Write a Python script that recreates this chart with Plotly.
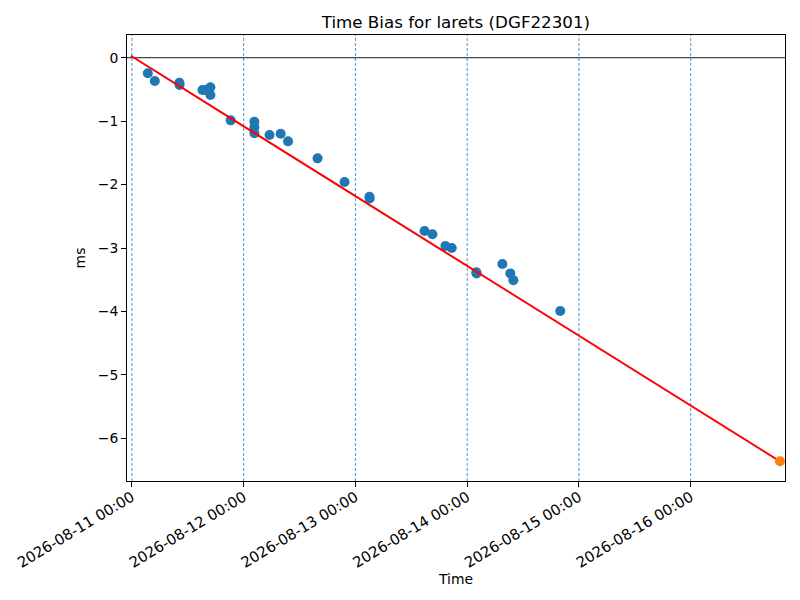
import plotly.graph_objects as go

# measured time bias samples
times = [
    "2026-08-11 03:25", "2026-08-11 04:55", "2026-08-11 10:12", "2026-08-11 10:14",
    "2026-08-11 15:09", "2026-08-11 15:47", "2026-08-11 16:51", "2026-08-11 16:52",
    "2026-08-11 21:13", "2026-08-12 02:18", "2026-08-12 02:18", "2026-08-12 02:19",
    "2026-08-12 05:34", "2026-08-12 07:57", "2026-08-12 09:32", "2026-08-12 15:52",
    "2026-08-12 21:40", "2026-08-13 03:01", "2026-08-13 03:04", "2026-08-13 14:50",
    "2026-08-13 16:32", "2026-08-13 19:19", "2026-08-13 20:41", "2026-08-14 01:58",
    "2026-08-14 02:01", "2026-08-14 07:34", "2026-08-14 09:16", "2026-08-14 09:55",
    "2026-08-14 19:59",
]
bias_ms = [
    -0.246, -0.367, -0.394, -0.430,
    -0.509, -0.509, -0.466, -0.588,
    -0.987, -1.009, -1.097, -1.191,
    -1.218, -1.198, -1.318, -1.586,
    -1.959, -2.19, -2.22, -2.731,
    -2.783, -2.968, -2.999, -3.38,
    -3.40, -3.252, -3.399, -3.508,
    -3.992,
]

# linear fit and prediction
fit_times = ["2026-08-10 23:46", "2026-08-16 19:10"]
fit_ms = [0.031, -6.361]
pred_time = ["2026-08-16 19:10"]
pred_ms = [-6.361]

# day boundaries marked with dashed lines
days = ["2026-08-11", "2026-08-12", "2026-08-13", "2026-08-14", "2026-08-15", "2026-08-16"]

x_range = ["2026-08-10 22:57", "2026-08-16 20:15"]
y_range = [-6.671, 0.358]

font = "DejaVu Sans, Liberation Sans, sans-serif"

fig = go.Figure()
for d in days:
    fig.add_vline(x=d, line=dict(color="#1f77b4", width=0.8, dash="3px,2px"), layer="below")
fig.add_hline(y=0, line=dict(color="black", width=0.9), layer="below")

fig.add_trace(go.Scatter(x=times, y=bias_ms, mode="markers",
                         marker=dict(color="#1f77b4", size=10)))
fig.add_trace(go.Scatter(x=fit_times, y=fit_ms, mode="lines",
                         line=dict(color="red", width=2)))
fig.add_trace(go.Scatter(x=pred_time, y=pred_ms, mode="markers",
                         marker=dict(color="#ff7f0e", size=10), cliponaxis=False))

fig.update_layout(
    width=800, height=600,
    autosize=False,
    margin=dict(l=126.5, r=14.7, t=35, b=119, autoexpand=False),
    plot_bgcolor="white",
    paper_bgcolor="white",
    showlegend=False,
    font=dict(family=font, size=13.9, color="black"),
    title=dict(text="Time Bias for larets (DGF22301)", x=0.5 + (126.5 - 14.7) / 1600,
               xanchor="center", y=1 - 22 / 600, yanchor="middle",
               font=dict(size=16.7, color="black")),
    xaxis=dict(
        title=dict(text="Time", standoff=0, font=dict(size=13.9)),
        type="date",
        range=x_range,
        tick0="2026-08-11",
        dtick=86400000,
        tickformat="%Y-%m-%d %H:%M",
        tickangle=-31,
        tickfont=dict(size=14.8),
        ticklabelstandoff=-4,
        ticks="outside", ticklen=4.9, tickcolor="black",
        showline=True, linecolor="black", linewidth=1, mirror=True,
        showgrid=False,
        zeroline=False,
    ),
    yaxis=dict(
        title=dict(text="ms", standoff=8, font=dict(size=13.9)),
        range=y_range,
        dtick=1,
        ticks="outside", ticklen=4.9, tickcolor="black",
        showline=True, linecolor="black", linewidth=1, mirror=True,
        showgrid=False,
        zeroline=False,
    ),
)

fig.write_html("out.html", config={"displayModeBar": False},
               post_script="document.body.style.margin='0px';")
